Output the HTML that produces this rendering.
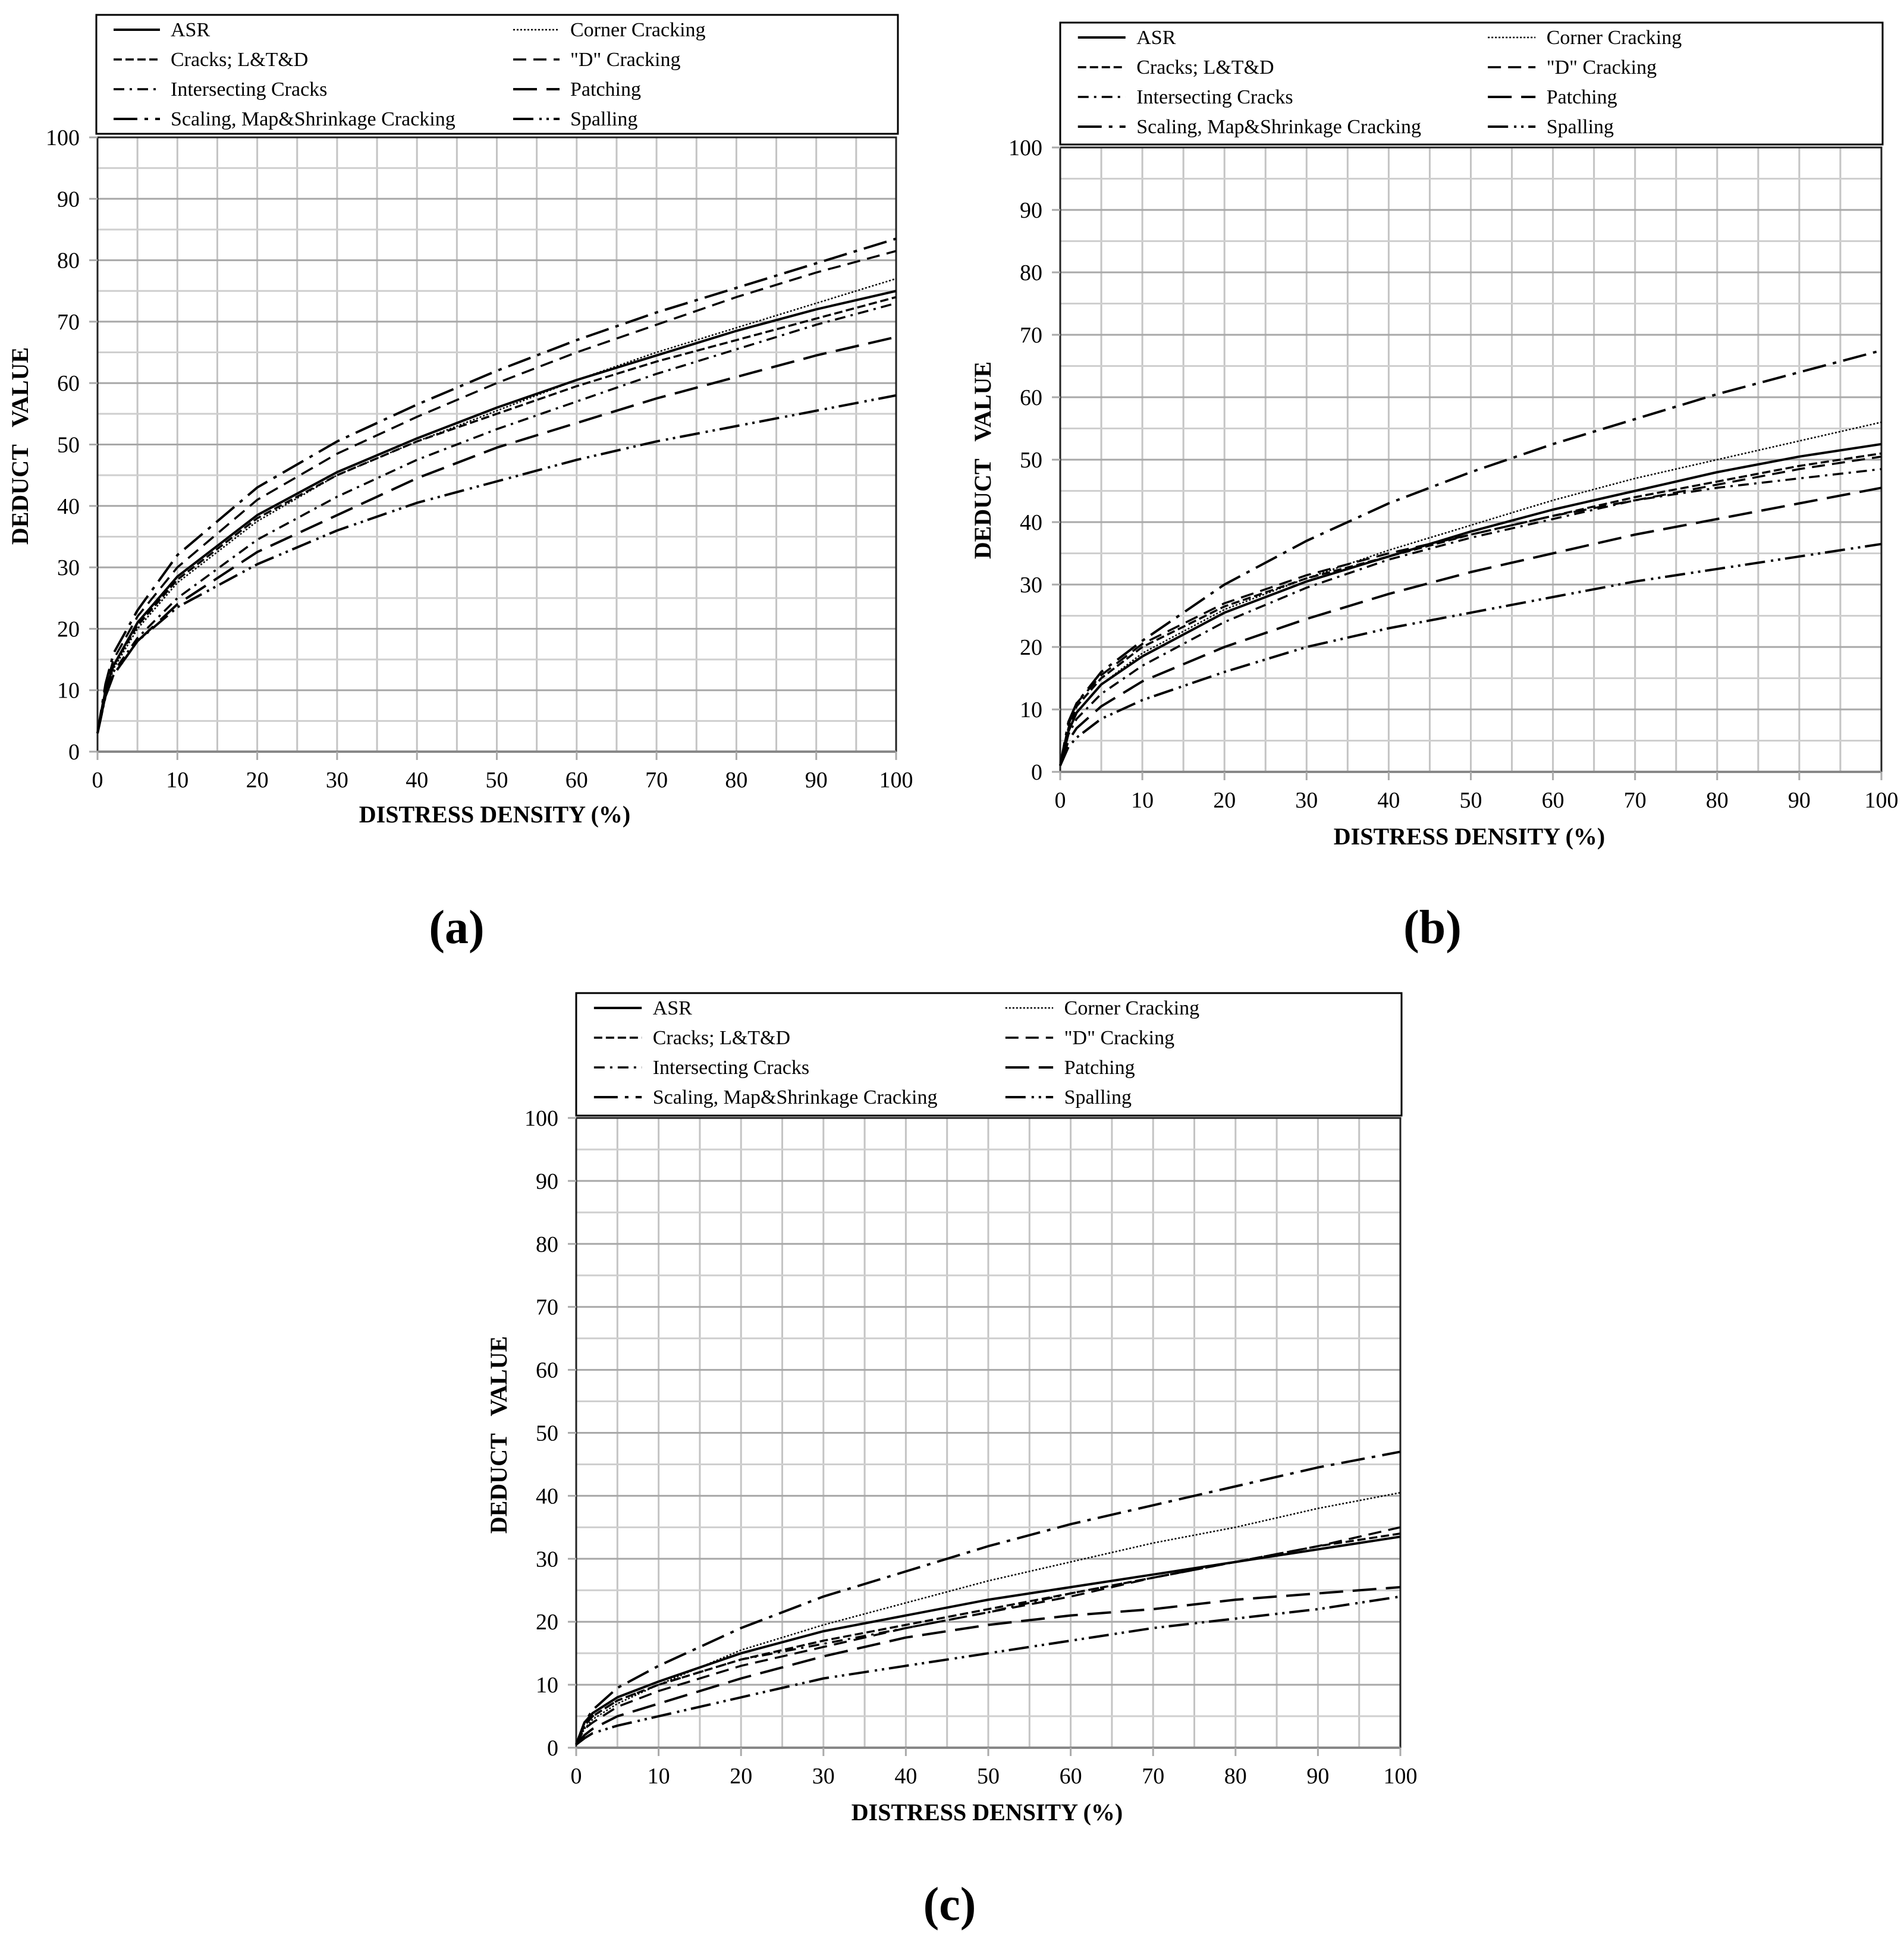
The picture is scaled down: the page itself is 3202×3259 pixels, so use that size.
<!DOCTYPE html>
<html><head><meta charset="utf-8"><style>
html,body{margin:0;padding:0;background:#fff;}
svg{display:block;font-family:"Liberation Serif",serif;}
</style></head><body>
<svg id="fig" width="3202" height="3259" viewBox="0 0 3202 3259" xmlns="http://www.w3.org/2000/svg"></svg>
<script>
const xVals = [0, 1, 2, 5, 10, 20, 30, 40, 50, 60, 70, 80, 90, 100];
const seriesNames = ["ASR", "Cracks; L&T&D", "Intersecting Cracks", "Scaling, Map&Shrinkage Cracking", "Corner Cracking", "\"D\" Cracking", "Patching", "Spalling"];
const xTicks = [0, 10, 20, 30, 40, 50, 60, 70, 80, 90, 100];
const yTicks = [0, 10, 20, 30, 40, 50, 60, 70, 80, 90, 100];
// panel (a)
const aASR = [3, 10, 14, 21, 28.5, 38.5, 45.5, 51, 56, 60.5, 64.5, 68.5, 72, 75];
const aCracks = [3, 10, 14, 20.5, 28, 38, 45, 50.5, 55, 59.5, 63.5, 67, 70.5, 74];
const aInter = [3, 9, 13, 18.5, 25, 34.5, 41.5, 47.5, 52.5, 57, 61.5, 65.5, 69.5, 73];
const aScaling = [3, 11, 16, 23, 32, 43, 50.5, 56.5, 62, 67, 71.5, 75.5, 79.5, 83.5];
const aCorner = [3, 9.5, 13.5, 20, 27.5, 37.5, 45, 50.5, 55.5, 60.5, 65, 69, 73, 77];
const aD = [3, 10.5, 15, 22, 30, 41, 48.5, 54.5, 60, 65, 69.5, 74, 78, 81.5];
const aPatch = [3, 9, 12.5, 18, 24, 32.5, 38.5, 44.5, 49.5, 53.5, 57.5, 61, 64.5, 67.5];
const aSpall = [3, 9, 12.5, 18, 23.5, 30.5, 36, 40.5, 44, 47.5, 50.5, 53, 55.5, 58];
// panel (b)
const bASR = [1, 6.5, 9.5, 14, 18.5, 25.5, 30.5, 34.5, 38.5, 42, 45, 48, 50.5, 52.5];
const bCracks = [1, 7, 10.5, 15, 20, 26.5, 31, 34.5, 38, 41, 44, 46.5, 49, 51];
const bInter = [1, 6, 8.5, 12.5, 17, 24, 29.5, 34, 37.5, 40.5, 43.5, 45.5, 47, 48.5];
const bScaling = [1, 8, 11, 16, 21, 30, 37, 43, 48, 52.5, 56.5, 60.5, 64, 67.5];
const bCorner = [1, 6.5, 9.5, 14, 19, 26, 31, 35.5, 39.5, 43.5, 47, 50, 53, 56];
const bD = [1, 7.5, 11, 15.5, 20.5, 27, 31.5, 35, 38, 41, 43.5, 46, 48.5, 50.5];
const bPatch = [1, 5, 7, 10.5, 14.5, 20, 24.5, 28.5, 32, 35, 38, 40.5, 43, 45.5];
const bSpall = [1, 4, 5.5, 8.5, 11.5, 16, 20, 23, 25.5, 28, 30.5, 32.5, 34.5, 36.5];
// panel (c)
const cASR = [0.5, 4, 5.5, 8, 10.5, 15, 18.5, 21, 23.5, 25.5, 27.5, 29.5, 31.5, 33.5];
const cCracks = [0.5, 3.5, 5, 7.5, 10, 14, 17, 19.5, 22, 24.5, 27, 29.5, 32, 34];
const cInter = [0.5, 3.5, 5, 7.5, 10, 14, 16.5, 19, 21.5, 24.5, 27, 29.5, 31.5, 33.5];
const cScaling = [0.5, 4, 6, 9.5, 13, 19, 24, 28, 32, 35.5, 38.5, 41.5, 44.5, 47];
const cCorner = [0.5, 3, 4.5, 7, 10, 15.5, 19.5, 23, 26.5, 29.5, 32.5, 35, 38, 40.5];
const cD = [0.5, 3, 4, 6.5, 9, 13, 16, 19, 21.5, 24, 27, 29.5, 32, 35];
const cPatch = [0.5, 2, 3, 5, 7, 11, 14.5, 17.5, 19.5, 21, 22, 23.5, 24.5, 25.5];
const cSpall = [0.5, 1.5, 2.3, 3.5, 5, 8, 11, 13, 15, 17, 19, 20.5, 22, 24];

const dashes = ["", "14 6", "18 9 4 9", "40 12 6 12", "3 3", "22 12", "40 16", "34 10 4 8 4 8"];
const widths = [4, 3.5, 3.5, 4, 2.5, 3.5, 4, 4];

const NS = "http://www.w3.org/2000/svg";
const svg = document.getElementById("fig");
function mk(tag, attrs, parent) {
  const e = document.createElementNS(NS, tag);
  for (const k in attrs) e.setAttribute(k, attrs[k]);
  (parent || svg).appendChild(e);
  return e;
}

const panels = [
  {id: "a", L: 164, R: 1507, T: 231, B: 1264, lg: [162, 25, 1510, 225], ylab: [33, 750], xlab: [832, 1369], cap: [768, 1560], data: [aASR, aCracks, aInter, aScaling, aCorner, aD, aPatch, aSpall]},
  {id: "b", L: 1783, R: 3164, T: 248, B: 1298, lg: [1783, 38, 3166, 243], ylab: [1652, 774], xlab: [2471, 1406], cap: [2409, 1560], data: [bASR, bCracks, bInter, bScaling, bCorner, bD, bPatch, bSpall]},
  {id: "c", L: 969, R: 2355, T: 1880, B: 2939, lg: [969, 1670, 2357, 1876], ylab: [838, 2413], xlab: [1660, 3047], cap: [1597, 3203], data: [cASR, cCracks, cInter, cScaling, cCorner, cD, cPatch, cSpall]}
];

panels.forEach(p => {
  const g = mk("g", {});
  
  
  const xs = v => p.L + (p.R - p.L) * v / 100;
  const ys = v => p.B - (p.B - p.T) * v / 100;
  for (let v = 5; v < 100; v += 5) {
    const gl = mk("line", {x1: xs(v), x2: xs(v), y1: p.T, y2: p.B, stroke: "#c4c4c4", "stroke-width": 3}, g);
    
    
  }
  for (let v = 5; v < 100; v += 5) {
    const gl = mk("line", {x1: p.L, x2: p.R, y1: ys(v), y2: ys(v), stroke: v % 10 === 0 ? "#a8a8a8" : "#cfcfcf", "stroke-width": 3}, g);
    
    
  }
  const fr = mk("rect", {x: p.L, y: p.T, width: p.R - p.L, height: p.B - p.T, fill: "none", stroke: "#222", "stroke-width": 3}, g);
  
  
  mk("line", {x1: p.L, x2: p.R, y1: p.B, y2: p.B, stroke: "#888", "stroke-width": 4}, g);
  xTicks.forEach(v => {
    mk("line", {x1: xs(v), x2: xs(v), y1: p.B, y2: p.B + 14, stroke: "#aaa", "stroke-width": 3}, g);
    const t = mk("text", {x: xs(v), y: p.B + 60, "text-anchor": "middle", "font-size": 38}, g);
    t.textContent = v;
    
    
  });
  yTicks.forEach(v => {
    mk("line", {x1: p.L - 14, x2: p.L, y1: ys(v), y2: ys(v), stroke: "#aaa", "stroke-width": 3}, g);
    const t = mk("text", {x: p.L - 30, y: ys(v) + 13, "text-anchor": "end", "font-size": 38}, g);
    t.textContent = v;
    
    
  });
  p.data.forEach((arr, i) => {
    const pts = arr.map((v, j) => xs(xVals[j]).toFixed(1) + "," + ys(v).toFixed(1)).join(" ");
    const attrs = {points: pts, fill: "none", stroke: "#000", "stroke-width": widths[i], "stroke-linejoin": "round"};
    if (dashes[i]) attrs["stroke-dasharray"] = dashes[i];
    const pl = mk("polyline", attrs, g);
    
    
  });
  const yt = mk("text", {x: 0, y: 0, "text-anchor": "middle", "font-size": 40, "font-weight": "bold", transform: `translate(${p.ylab[0] + 14},${p.ylab[1]}) rotate(-90)`}, g);
  yt.textContent = "DEDUCT   VALUE";
  yt.setAttribute("xml:space", "preserve");
  yt.style.whiteSpace = "pre";
  
  
  const xt = mk("text", {x: p.xlab[0], y: p.xlab[1] + 14, "text-anchor": "middle", "font-size": 40, "font-weight": "bold"}, g);
  xt.textContent = "DISTRESS DENSITY (%)";
  
  
  const cap = mk("text", {x: p.cap[0], y: p.cap[1] + 26, "text-anchor": "middle", "font-size": 80, "font-weight": "bold"}, g);
  cap.textContent = "(" + p.id + ")";
  
  
  const [lx, ly, lr, lb] = p.lg;
  const lgG = mk("g", {}, g);
  
  
  mk("rect", {x: lx, y: ly, width: lr - lx, height: lb - ly, fill: "#fff", stroke: "#000", "stroke-width": 3}, lgG);
  const k = (lr - lx) / 1348;
  seriesNames.forEach((n, i) => {
    const col = i < 4 ? 0 : 1, row = i % 4;
    const sx = lx + (col ? 701 : 29) * k, ty = ly + 25 + row * 50;
    const la = {x1: sx, x2: sx + 78 * k, y1: ty, y2: ty, stroke: "#000", "stroke-width": widths[i]};
    if (dashes[i]) la["stroke-dasharray"] = dashes[i];
    const ln = mk("line", la, lgG);
    
    
    const t = mk("text", {x: lx + (col ? 797 : 125) * k, y: ty + 11, "font-size": 34}, lgG);
    t.textContent = n;
    
    
  });
});
</script>
</body></html>
